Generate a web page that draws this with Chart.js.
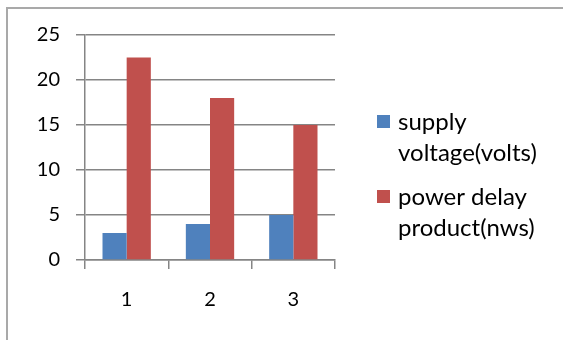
<!DOCTYPE html>
<html>
<head>
<meta charset="utf-8">
<script src="https://cdn.jsdelivr.net/npm/chart.js@4/dist/chart.umd.min.js"></script>
<style>
  html, body { margin: 0; padding: 0; background: #fff; overflow: hidden; }
  #wrap { position: relative; width: 563px; height: 340px; }
  #frame { position: absolute; left: 6px; top: 7px; width: 620px; height: 400px;
           border-left: 2px solid #a9a9a9; border-top: 2px solid #a9a9a9; box-sizing: border-box; }
  canvas { position: absolute; left: 0; top: 0; }
</style>
</head>
<body>
<div id="wrap">
  <div id="frame"></div>
  <canvas id="c" width="563" height="340"></canvas>
</div>
<script>
const categories = ["1", "2", "3"];
const supplyVoltage = [3, 4, 5];
const powerDelayProduct = [22.5, 18, 15];
const seriesNames = ["supply voltage(volts)", "power delay product(nws)"];
const legendLines = [["supply", "voltage(volts)"], ["power delay", "product(nws)"]];
const yTicks = [0, 5, 10, 15, 20, 25];

const FONT = "Lato, 'Open Sans', sans-serif";
const gridColor = "#858585";

// Two-line legend drawn beside the plot
const sideLegend = {
  id: "sideLegend",
  afterDraw(chart) {
    const ctx = chart.ctx;
    ctx.save();
    ctx.font = "24px " + FONT;
    ctx.textBaseline = "middle";
    ctx.textAlign = "left";
    const startY = [115, 190];
    chart.data.datasets.forEach((ds, i) => {
      const y0 = startY[i];
      ctx.fillStyle = ds.backgroundColor;
      ctx.fillRect(377, y0, 13, 13);
      ctx.fillStyle = "#000";
      legendLines[i].forEach((line, j) => {
        ctx.fillText(line, 398, y0 + 7 + j * 31);
      });
    });
    ctx.restore();
  }
};

new Chart(document.getElementById("c"), {
  type: "bar",
  data: {
    labels: categories,
    datasets: [
      { label: seriesNames[0], data: supplyVoltage, backgroundColor: "#4f81bd" },
      { label: seriesNames[1], data: powerDelayProduct, backgroundColor: "#c0504d" }
    ]
  },
  options: {
    responsive: false,
    animation: false,
    devicePixelRatio: 1,
    layout: { padding: { left: 0, top: 35, right: 228, bottom: 0 } },
    plugins: { legend: { display: false }, tooltip: { enabled: false } },
    datasets: { bar: { categoryPercentage: 0.58, barPercentage: 1 } },
    scales: {
      x: {
        grid: { offset: true, drawOnChartArea: false, color: gridColor, tickLength: 9, lineWidth: 1.5 },
        border: { color: gridColor, width: 1.5 },
        ticks: { color: "#000", font: { family: FONT, size: 20 }, padding: 19 },
        afterFit(scale) { scale.height = 80; }
      },
      y: {
        min: 0, max: 25,
        afterBuildTicks(scale) { scale.ticks = yTicks.map(v => ({ value: v })); },
        grid: { color: gridColor, tickLength: 9, lineWidth: 1.5 },
        border: { color: gridColor, width: 1.5 },
        ticks: { color: "#000", font: { family: FONT, size: 20 }, padding: 16 },
        afterFit(scale) { scale.width = 85; }
      }
    }
  },
  plugins: [sideLegend]
});
</script>
</body>
</html>
